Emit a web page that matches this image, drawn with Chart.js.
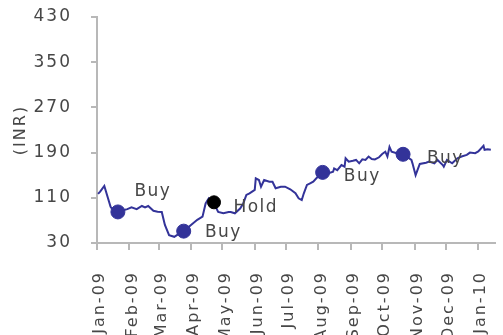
<!DOCTYPE html>
<html>
<head>
<meta charset="utf-8">
<script src="https://cdn.jsdelivr.net/npm/chart.js@4"></script>
<style>
  body { margin: 0; background: #fff; }
</style>
</head>
<body>
<canvas id="priceChart" width="503" height="335"></canvas>
<script>
// days counted from 1 Jan 2009
const tradeDays = [
  1, 3, 7, 13, 17, 21, 25, 29, 33, 38, 43, 46, 49, 54, 58, 62, 65, 69, 74, 79,
  83, 90, 96, 101, 104, 107, 112, 116, 121, 126, 128, 132, 137, 140, 143, 146, 151, 152, 155, 157,
  160, 165, 168, 171, 176, 180, 185, 190, 193, 196, 198, 201, 204, 207, 210, 216, 221, 226, 227, 230,
  234, 237, 238, 241, 245, 248, 251, 254, 257, 260, 263, 266, 270, 273, 276, 278, 280, 282, 287, 293,
  301, 302, 305, 309, 315, 318, 323, 326, 331, 332, 335, 340, 345, 349, 354, 357, 362, 365, 370, 371,
  374, 377
]
const closePrices = [
  117, 121, 131, 94, 84, 84, 88, 90, 93, 90, 95.5, 93, 95.5, 87, 85.5, 85, 62, 44, 41, 47,
  51, 62, 71, 76.5, 100, 109, 100, 85, 82.6, 85, 85, 82.6, 91, 100, 115, 118, 124, 144.5, 141.5, 129.6,
  141.5, 138.5, 138.5, 127, 129.6, 129.6, 125, 118, 109, 106, 118, 132.7, 135.6, 138.5, 144.5, 155, 153, 156, 162, 159,
  168, 165, 180, 174, 175.6, 177, 171, 178, 177, 183, 178.7, 178, 181.7, 187.5, 191.6, 183, 200, 191.6, 188.8, 187,
  177, 171, 150, 170, 172, 174, 171, 177, 168, 165, 177, 171, 180, 183, 186, 190, 189, 192, 202, 195,
  196, 195
]

const buyDays = [20, 83, 216, 293]
const buyValues = [85, 51, 155, 187]
const holdDays = [112]
const holdValues = [102]

const noteTexts = ['Buy', 'Buy', 'Hold', 'Buy', 'Buy']
const noteDays = [53.5, 121, 152, 254, 333.5]
const noteValues = [113, 41, 85, 140, 172]

const monthDays = [0, 31, 59, 90, 120, 151, 181, 212, 243, 273, 304, 334, 365]
const monthLabels = ['Jan-09', 'Feb-09', 'Mar-09', 'Apr-09', 'May-09', 'Jun-09', 'Jul-09',
  'Aug-09', 'Sep-09', 'Oct-09', 'Nov-09', 'Dec-09', 'Jan-10']

const yTicks = [30, 110, 190, 270, 350, 430]

const navy = '#333399'
const textGrey = '#474747'
const axisGrey = '#b8b8b8'
const fontFamily = "'DejaVu Sans', Verdana, sans-serif"

const spacing = {
  id: 'spacing',
  beforeLayout(chart) { chart.ctx.letterSpacing = '2px' },
  beforeDraw(chart) { chart.ctx.letterSpacing = '2px' }
}

const notes = {
  id: 'notes',
  afterDatasetsDraw(chart) {
    const ctx = chart.ctx
    const xs = chart.scales.x
    const ys = chart.scales.y
    ctx.save()
    ctx.letterSpacing = '1.5px'
    ctx.font = '17px ' + fontFamily
    ctx.fillStyle = textGrey
    ctx.textAlign = 'center'
    ctx.textBaseline = 'alphabetic'
    noteTexts.forEach((t, i) => {
      ctx.fillText(t, xs.getPixelForValue(noteDays[i]), ys.getPixelForValue(noteValues[i]))
    })
    ctx.restore()
  }
}

const ctx = document.getElementById('priceChart').getContext('2d')
new Chart(ctx, {
  type: 'line',
  data: {
    datasets: [
      {
        type: 'scatter',
        data: buyDays.map((d, i) => ({ x: d, y: buyValues[i] })),
        backgroundColor: navy,
        borderColor: navy,
        borderWidth: 1,
        pointRadius: 7,
        order: 0
      },
      {
        type: 'scatter',
        data: holdDays.map((d, i) => ({ x: d, y: holdValues[i] })),
        backgroundColor: '#000',
        borderColor: '#000',
        borderWidth: 1,
        pointRadius: 6.5,
        order: 0
      },
      {
        data: tradeDays.map((d, i) => ({ x: d, y: closePrices[i] })),
        borderColor: navy,
        borderWidth: 2,
        pointRadius: 0,
        tension: 0,
        fill: false,
        order: 1
      }
    ]
  },
  options: {
    responsive: false,
    animation: false,
    layout: { padding: { top: 17, right: 0, bottom: 0, left: 0 } },
    plugins: {
      legend: { display: false },
      tooltip: { enabled: false }
    },
    scales: {
      x: {
        type: 'linear',
        min: 0,
        max: 381,
        afterBuildTicks: function (scale) {
          scale.ticks = monthDays.map(v => ({ value: v }))
        },
        afterFit: function (scale) {
          scale.height = 92
          scale.paddingLeft = 0
          scale.paddingRight = 0
        },
        border: { color: axisGrey, width: 2 },
        grid: { drawOnChartArea: false, drawTicks: true, tickLength: 7, color: axisGrey, lineWidth: 2 },
        ticks: {
          autoSkip: false,
          minRotation: 90,
          maxRotation: 90,
          padding: 21,
          labelOffset: 3,
          color: textGrey,
          font: { family: fontFamily, size: 16 },
          callback: function (value) {
            const i = monthDays.indexOf(value)
            return i >= 0 ? monthLabels[i] : ''
          }
        }
      },
      y: {
        min: 30,
        max: 430,
        afterBuildTicks: function (scale) {
          scale.ticks = yTicks.map(v => ({ value: v }))
        },
        afterFit: function (scale) {
          scale.width = 97
          scale.paddingTop = 0
          scale.paddingBottom = 0
        },
        border: { color: axisGrey, width: 2 },
        grid: { drawOnChartArea: false, drawTicks: true, tickLength: 6, color: axisGrey, lineWidth: 2 },
        title: {
          display: true,
          text: '(INR)',
          color: textGrey,
          font: { family: fontFamily, size: 16 },
          padding: { top: 11, bottom: 0 }
        },
        ticks: {
          padding: 19,
          color: textGrey,
          font: { family: fontFamily, size: 17 }
        }
      }
    }
  },
  plugins: [spacing, notes]
})
</script>
</body>
</html>
